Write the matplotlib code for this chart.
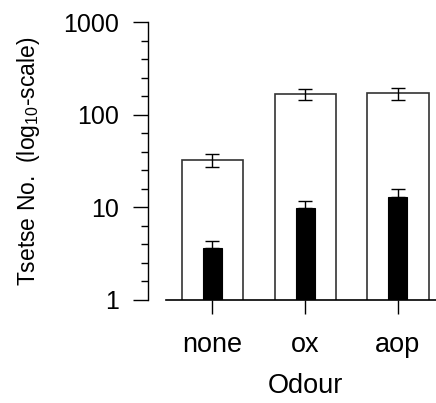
import numpy as np
import matplotlib.pyplot as plt
from matplotlib.ticker import FixedLocator, NullFormatter

plt.rcParams['font.family'] = ['Liberation Sans', 'DejaVu Sans']

odours = ['none', 'ox', 'aop']
total = [32.5, 166, 170]
total_err = [5, 23, 25]
subset = [3.6, 9.8, 12.9]
subset_err = [0.75, 2.0, 2.7]

fig = plt.figure(figsize=(4.36, 4.03), dpi=100)
ax = fig.add_axes([0.3807, 0.2556, 0.6385, 0.6898])

x = np.arange(len(odours))
ax.bar(x, total, width=0.66, color='white', edgecolor='#333333', linewidth=1.2, zorder=2)
ax.errorbar(x, total, yerr=total_err, fmt='none', ecolor='black', elinewidth=1,
            capsize=5, capthick=1, zorder=3)
ax.bar(x, subset, width=0.205, color='black', edgecolor='black', linewidth=0.8, zorder=4)
ax.errorbar(x, subset, yerr=[np.zeros(3), subset_err], fmt='none', ecolor='black',
            elinewidth=1, capsize=5, capthick=1, zorder=3)

ax.set_yscale('log')
ax.set_ylim(1, 1000)
ax.set_xlim(-0.5, 2.5)
ax.set_yticks([1, 10, 100, 1000])
ax.set_yticklabels(['1', '10', '100', '1000'])
minor = [10 ** (d + f) for d in range(3) for f in (0.2, 0.4, 0.6, 0.8)]
ax.yaxis.set_minor_locator(FixedLocator(minor))
ax.yaxis.set_minor_formatter(NullFormatter())
ax.set_xticks(x)
ax.set_xticklabels(odours)

for s in ['top', 'right']:
    ax.spines[s].set_visible(False)
ax.spines['left'].set_position(('outward', 13))
ax.spines['left'].set_linewidth(1)
ax.spines['bottom'].set_linewidth(1.2)

ax.tick_params(axis='y', which='major', length=11, width=1, labelsize=18, pad=10)
ax.tick_params(axis='y', which='minor', length=5, width=1)
ax.tick_params(axis='x', which='major', length=10, width=1, labelsize=19.5, pad=13)

ax.set_ylabel('Tsetse No.  (log$_{\\mathregular{10}}$-scale)', fontsize=16.5, labelpad=15)
ax.set_xlabel('Odour', fontsize=19.5, labelpad=11)

fig.savefig('out.png', dpi=100)
